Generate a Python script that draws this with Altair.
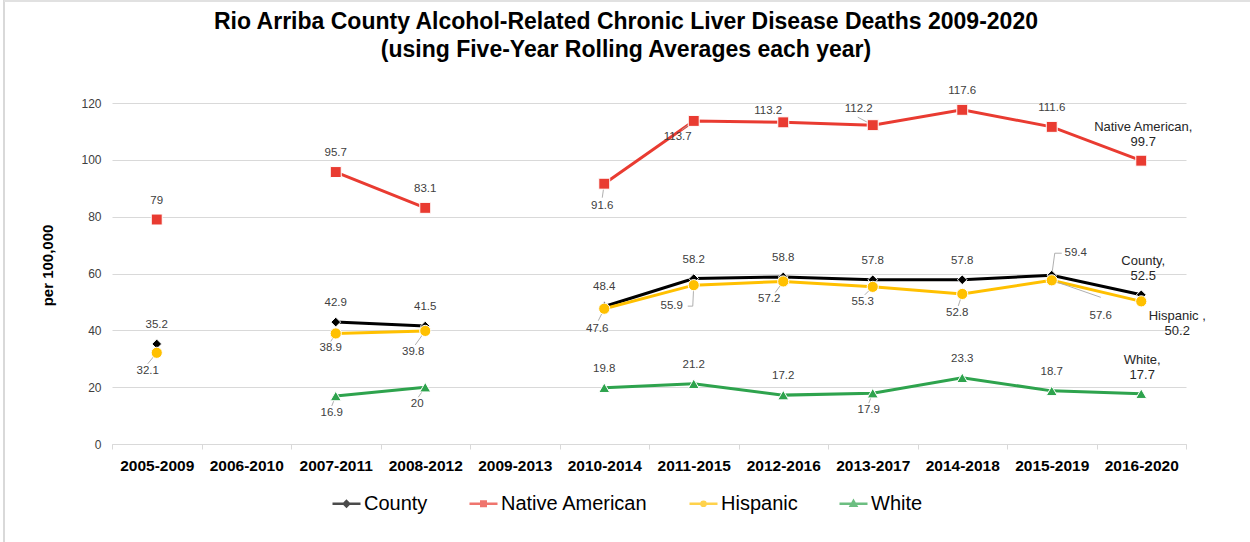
import altair as alt
import pandas as pd

# ---- data -------------------------------------------------------------
PERIODS = ["2005-2009", "2006-2010", "2007-2011", "2008-2012", "2009-2013",
           "2010-2014", "2011-2015", "2012-2016", "2013-2017", "2014-2018",
           "2015-2019", "2016-2020"]
SERIES = ["County", "Native American", "Hispanic", "White"]

county = [35.2, None, 42.9, 41.5, None, 48.4, 58.2, 58.8, 57.8, 57.8, 59.4, 52.5]
native_american = [79, None, 95.7, 83.1, None, 91.6, 113.7, 113.2, 112.2, 117.6, 111.6, 99.7]
hispanic = [32.1, None, 38.9, 39.8, None, 47.6, 55.9, 57.2, 55.3, 52.8, 57.6, 50.2]
white = [None, None, 16.9, 20, None, 19.8, 21.2, 17.2, 17.9, 23.3, 18.7, 17.7]

VALUES = {"County": county, "Native American": native_american,
          "Hispanic": hispanic, "White": white}
END_NAMES = {"County": "County,", "Native American": "Native American,",
             "Hispanic": "Hispanic ,", "White": "White,"}

# ---- styling ----------------------------------------------------------
FONT = "Liberation Sans, Arial, sans-serif"
WIDTH, HEIGHT = 1074, 341
PAD = {"left": 112, "top": 103, "right": 64, "bottom": 98}
Y_MAX = 120
HALF_STEP = WIDTH / len(PERIODS) / 2
COLORS = {"County": "#000000", "Native American": "#E93B31",
          "Hispanic": "#FFC000", "White": "#2EA34D"}
MARKERS = {"County": ("diamond", 95), "Native American": ("square", 120),
           "Hispanic": ("circle", 125), "White": ("triangle-up", 120)}
LEGEND_PATHS = [
    "M-1,0H1M0,-0.19L0.19,0L0,0.19L-0.19,0Z",
    "M-1,0H1M-0.16,-0.16H0.16V0.16H-0.16Z",
    "M-1,0H1M0.15,0A0.15,0.15,0,1,1,-0.15,0A0.15,0.15,0,1,1,0.15,0Z",
    "M-1,0H1M0,-0.19L0.19,0.14H-0.19Z",
]

# label nudges in pixels (dx, dy); anything not listed sits just above its point.
# For the two-line end labels dy is the first line.
NUDGE = {
    ("County", "2015-2019"): (24, -22),
    ("County", "2016-2020"): (2, -34),
    ("Native American", "2010-2014"): (-2, 22),
    ("Native American", "2011-2015"): (-16, 16),
    ("Native American", "2012-2016"): (-15, -11),
    ("Native American", "2013-2017"): (-14, -16),
    ("Native American", "2016-2020"): (2, -34),
    ("Hispanic", "2005-2009"): (-9, 18),
    ("Hispanic", "2007-2011"): (-5, 15),
    ("Hispanic", "2008-2012"): (-12, 21),
    ("Hispanic", "2010-2014"): (-7, 20),
    ("Hispanic", "2011-2015"): (-22, 21),
    ("Hispanic", "2012-2016"): (-14, 18),
    ("Hispanic", "2013-2017"): (-10, 15),
    ("Hispanic", "2014-2018"): (-5, 19),
    ("Hispanic", "2015-2019"): (49, 36),
    ("Hispanic", "2016-2020"): (36, 15),
    ("White", "2007-2011"): (-4, 17),
    ("White", "2008-2012"): (-8, 17),
    ("White", "2013-2017"): (-4, 17),
    ("White", "2016-2020"): (1, -34),
}

# leader lines from a marker towards its displaced label (pixel vertices)
LEADERS = {
    ("Hispanic", "2005-2009"): [(0, 0), (-9, 11)],
    ("Hispanic", "2007-2011"): [(0, 0), (-5, 8)],
    ("Hispanic", "2008-2012"): [(0, 0), (-10, 14)],
    ("White", "2007-2011"): [(0, 0), (-4, 10)],
    ("White", "2008-2012"): [(0, 0), (-7, 10)],
    ("Native American", "2010-2014"): [(0, 0), (-2, 14)],
    ("Native American", "2011-2015"): [(0, 0), (-12, 9)],
    ("Native American", "2013-2017"): [(0, 0), (-15, -8)],
    ("Hispanic", "2010-2014"): [(0, 0), (-6, 12)],
    ("Hispanic", "2011-2015"): [(0, 0), (-1, 21), (-6, 21)],
    ("Hispanic", "2012-2016"): [(0, 0), (-8, 11)],
    ("Hispanic", "2013-2017"): [(0, 0), (-8, 8)],
    ("White", "2013-2017"): [(0, 0), (-4, 10)],
    ("Hispanic", "2014-2018"): [(0, 0), (-4, 12)],
    ("County", "2015-2019"): [(0, 0), (3, -22), (10, -22)],
    ("Hispanic", "2015-2019"): [(0, 0), (49, 17)],
}

rows = []
for s in SERIES:
    for i, (p, v) in enumerate(zip(PERIODS, VALUES[s])):
        dx, dy = NUDGE.get((s, p), (0, -19))
        last = i == len(PERIODS) - 1
        label = None
        if v is not None:
            label = f"{END_NAMES[s]}\n{v:g}" if last else f"{v:g}"
        rows.append({"series": s, "period": p, "value": v, "label": label,
                     "dx": dx, "dy": dy, "end": last})
df = pd.DataFrame(rows)

leader_rows = []
for n, ((s, p), verts) in enumerate(LEADERS.items()):
    v = VALUES[s][PERIODS.index(p)]
    for k, (dx, dy) in enumerate(verts):
        leader_rows.append({"lid": n, "k": k, "period": p, "value": v, "dx": dx, "dy": dy})
leaders_df = pd.DataFrame(leader_rows)

# ---- encodings --------------------------------------------------------
x_enc = alt.X(
    "period:N", sort=PERIODS,
    scale=alt.Scale(type="band", domain=PERIODS, paddingInner=0, paddingOuter=0),
    axis=alt.Axis(title=None, labelAngle=0, grid=False, ticks=True, tickBand="extent",
                  tickSize=5, tickColor="#d9d9d9", domainColor="#d9d9d9",
                  labelFont=FONT, labelFontSize=15.5, labelFontWeight="bold",
                  labelColor="#000000", labelPadding=21, labelBaseline="alphabetic"),
)
y_scale = alt.Scale(domain=[0, Y_MAX], nice=False)
y_enc = alt.Y(
    "value:Q", scale=y_scale,
    axis=alt.Axis(values=[0, 20, 40, 60, 80, 100, 120], grid=True, gridColor="#d9d9d9",
                  domain=False, ticks=False, labelFont=FONT, labelFontSize=12,
                  labelColor="#404040", labelPadding=11,
                  title="per 100,000", titleFont=FONT, titleFontSize=15,
                  titleFontWeight="bold", titleColor="#000000", titleAngle=270,
                  titleX=-65, titleY=162, titleAlign="center", titleBaseline="middle"),
)
# pixel nudges turned into band offsets and data units
nudge_calc = dict(
    ox=f"datum.dx + {HALF_STEP}",
    ly=f"datum.value - datum.dy * {Y_MAX / HEIGHT}",
)
nudged_x = alt.X("period:N", sort=PERIODS)
nudged_y = alt.Y("ly:Q", scale=y_scale)
nudged_off = alt.XOffset("ox:Q", scale=None)

base = alt.Chart(df)
layers = []

# thin border round the figure (left and top edges)
layers.append(
    base.mark_rule(color="#d9d9d9", strokeWidth=1.5).encode(
        x=alt.value(-PAD["left"] + 4), y=alt.value(-PAD["top"]),
        y2=alt.value(HEIGHT + PAD["bottom"]))
)
layers.append(
    base.mark_rule(color="#e0e0e0", strokeWidth=1.5).encode(
        x=alt.value(-PAD["left"] + 4), x2=alt.value(WIDTH + PAD["right"]),
        y=alt.value(-PAD["top"] + 1))
)

# series lines
for s in SERIES:
    layers.append(
        base.transform_filter(alt.datum.series == s)
        .mark_line(color=COLORS[s], strokeWidth=3, invalid="break-paths-filter-domains")
        .encode(x=x_enc, y=y_enc)
    )

# leader lines (beneath the markers)
layers.append(
    alt.Chart(leaders_df).transform_calculate(**nudge_calc)
    .mark_line(color="#a6a6a6", strokeWidth=0.9)
    .encode(x=nudged_x, y=nudged_y, xOffset=nudged_off,
            detail="lid:N", order="k:Q")
)

# markers, drawn in legend order
for s in SERIES:
    shape, size = MARKERS[s]
    layers.append(
        base.transform_filter(alt.datum.series == s)
        .transform_filter("isValid(datum.value)")
        .mark_point(filled=True, shape=shape, size=size, color=COLORS[s],
                    stroke="#ffffff", strokeWidth=1, opacity=1)
        .encode(x=x_enc, y=y_enc)
    )

# value labels
labelled = base.transform_filter("isValid(datum.value)").transform_calculate(**nudge_calc)
label_enc = dict(x=nudged_x, y=nudged_y, xOffset=nudged_off, text="label:N")
layers.append(
    labelled.transform_filter("!datum.end")
    .mark_text(font=FONT, fontSize=11.5, color="#404040", baseline="middle")
    .encode(**label_enc)
)
layers.append(
    labelled.transform_filter("datum.end")
    .mark_text(font=FONT, fontSize=13, color="#262626", baseline="middle",
               lineBreak="\n", lineHeight=15)
    .encode(**label_enc)
)

# legend carrier: no marks, only the merged fill/stroke/shape legend
layers.append(
    base.transform_filter("false")
    .mark_point(filled=True)
    .encode(
        x=x_enc, y=y_enc,
        fill=alt.Fill("series:N", title=None,
                      scale=alt.Scale(domain=SERIES, range=[COLORS[s] for s in SERIES])),
        stroke=alt.Stroke("series:N", title=None,
                          scale=alt.Scale(domain=SERIES, range=[COLORS[s] for s in SERIES])),
        shape=alt.Shape("series:N", title=None,
                        scale=alt.Scale(domain=SERIES, range=LEGEND_PATHS)),
    )
)

chart = (
    alt.layer(*layers)
    .properties(
        width=WIDTH, height=HEIGHT,
        title=alt.TitleParams(
            text=["Rio Arriba County Alcohol-Related Chronic Liver Disease Deaths  2009-2020",
                  "(using Five-Year Rolling Averages each year)"],
            font=FONT, fontSize=23, fontWeight="bold", color="#000000",
            anchor="middle", dx=-23, offset=0, dy=63, lineHeight=28),
        autosize=alt.AutoSizeParams(type="none"),
        padding=PAD,
        background="#ffffff",
    )
    .configure_view(stroke=None)
    .configure_legend(orient="none", legendX=219, legendY=385, direction="horizontal",
                      columns=4, symbolSize=784, symbolStrokeWidth=2.5,
                      labelFont=FONT, labelFontSize=20, labelColor="#000000",
                      labelOffset=2, columnPadding=36, labelLimit=300)
)

chart.save("out.html", embed_options={"renderer": "svg", "actions": False})
